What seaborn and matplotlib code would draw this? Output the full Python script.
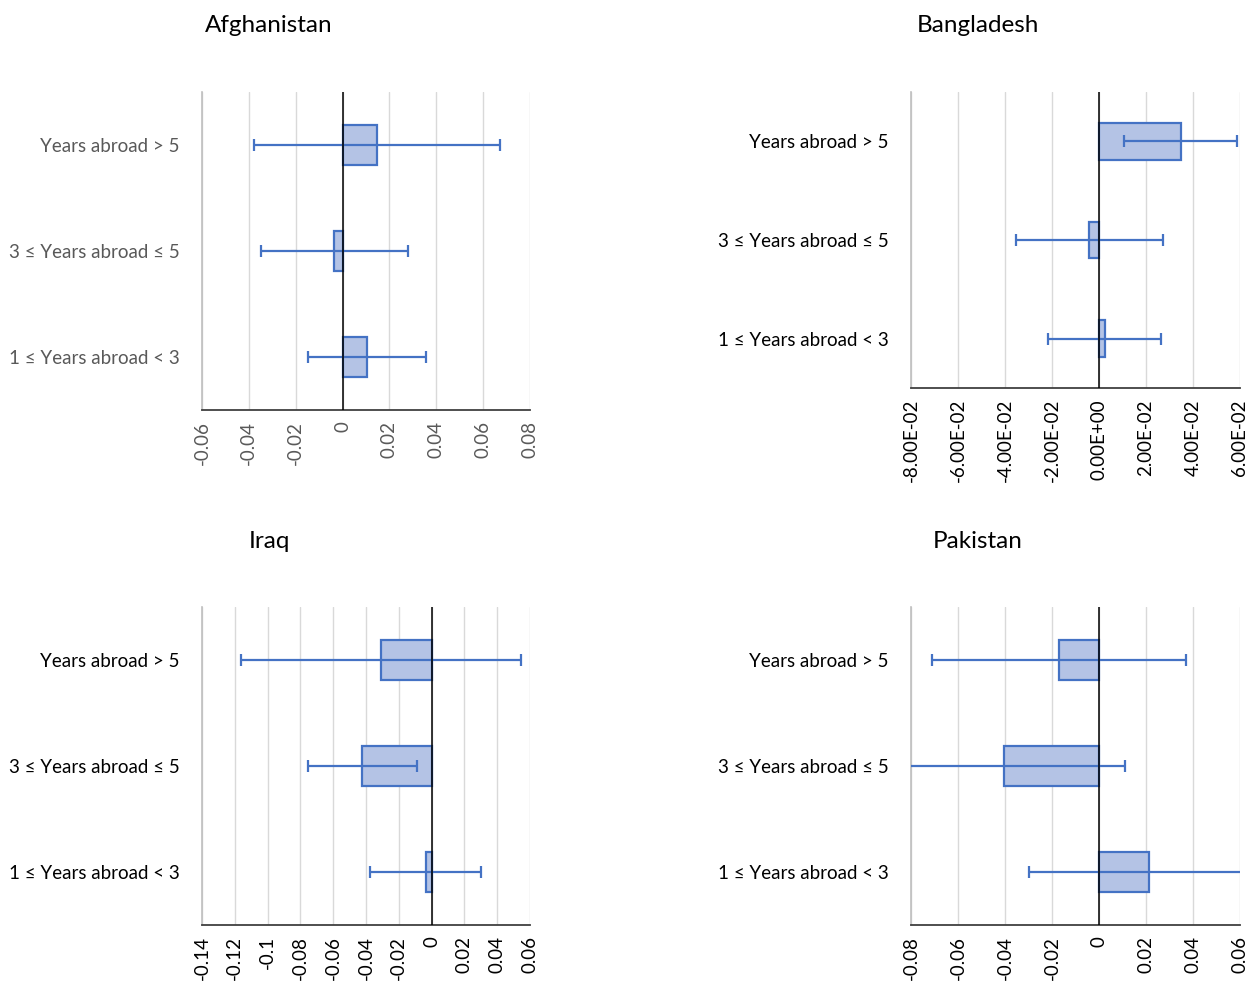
import numpy as np
import pandas as pd
import matplotlib
matplotlib.use("Agg")
import matplotlib.pyplot as plt
import seaborn as sns

sns.set_style("white")
plt.rcParams["font.family"] = ["Lato", "DejaVu Sans"]

categories = ["Years abroad > 5", "3 \u2264 Years abroad \u2264 5", "1 \u2264 Years abroad < 3"]

afg_vals = [0.0146, -0.0035, 0.0105]
afg_err = [0.0525, 0.0313, 0.0251]
bgd_vals = [0.0347, -0.0041, 0.0025]
bgd_err = [0.0240, 0.0313, 0.0240]
irq_vals = [-0.0309, -0.0422, -0.0037]
irq_err = [0.0853, 0.0331, 0.0338]
pak_vals = [-0.0169, -0.0403, 0.0211]
pak_err = [0.0540, 0.0512, 0.0510]

afg_ticks = [-0.06, -0.04, -0.02, 0, 0.02, 0.04, 0.06, 0.08]
bgd_ticks = [-0.08, -0.06, -0.04, -0.02, 0, 0.02, 0.04, 0.06]
irq_ticks = [-0.14, -0.12, -0.1, -0.08, -0.06, -0.04, -0.02, 0, 0.02, 0.04, 0.06]
pak_ticks = [-0.08, -0.06, -0.04, -0.02, 0, 0.02, 0.04, 0.06]

BLUE = "#4472C4"
FILL = "#B4C3E5"
W, H = 1253, 981

fig = plt.figure(figsize=(W / 100, H / 100), dpi=100)


def plain_fmt(v):
    v = round(v, 2)
    if v == 0:
        return "0"
    return f"{v:g}"


def sci_fmt(v):
    if abs(v) < 1e-12:
        v = 0.0
    return f"{v:.2E}"


def panel(rect, title, title_xy, vals, errs, ticks, fmt, text_color):
    ax = fig.add_axes(rect)
    df = pd.DataFrame({"cat": categories, "val": vals})
    sns.barplot(data=df, x="val", y="cat", order=categories, orient="h",
                color=FILL, saturation=1, width=0.37, edgecolor=BLUE,
                linewidth=1.6, ax=ax, zorder=2)
    ax.errorbar(vals, np.arange(len(vals)), xerr=errs, fmt="none",
                ecolor=BLUE, elinewidth=1.6, capsize=4.5, capthick=1.6, zorder=3)
    ax.set_xlim(ticks[0], ticks[-1])
    ax.set_ylim(2.5, -0.5)
    ax.set_xticks(ticks)
    ax.set_xticklabels([fmt(t) for t in ticks], rotation=90, fontsize=13.5, color=text_color)
    ax.tick_params(axis="y", labelsize=13.5, labelcolor=text_color, length=0, pad=16)
    ax.tick_params(axis="x", length=0, pad=8)
    ax.set_xlabel("")
    ax.set_ylabel("")
    ax.grid(axis="x", color="#D9D9D9", linewidth=1, zorder=0)
    ax.grid(axis="y", visible=False)
    ax.set_axisbelow(True)
    ax.axvline(0, color="black", linewidth=1.1, zorder=4)
    for s in ["top", "right"]:
        ax.spines[s].set_visible(False)
    ax.spines["left"].set_color("#BFBFBF")
    ax.spines["left"].set_linewidth(1.2)
    ax.spines["bottom"].set_color("#404040")
    ax.spines["bottom"].set_linewidth(1.3)
    fig.text(title_xy[0] / W, 1 - title_xy[1] / H, title, ha="center", va="center",
             fontsize=17.5, color="black")
    return ax


def rect(x0, x1, y0, y1):
    return [x0 / W, 1 - y1 / H, (x1 - x0) / W, (y1 - y0) / H]


panel(rect(202, 530, 92, 410), "Afghanistan", (269, 26), afg_vals, afg_err,
      afg_ticks, plain_fmt, "#595959")
panel(rect(911, 1240, 92, 388), "Bangladesh", (978, 26), bgd_vals, bgd_err,
      bgd_ticks, sci_fmt, "black")
panel(rect(202, 530, 607, 925), "Iraq", (269, 541), irq_vals, irq_err,
      irq_ticks, plain_fmt, "black")
panel(rect(911, 1240, 607, 925), "Pakistan", (978, 541), pak_vals, pak_err,
      pak_ticks, plain_fmt, "black")

fig.savefig("out.png", dpi=100)
